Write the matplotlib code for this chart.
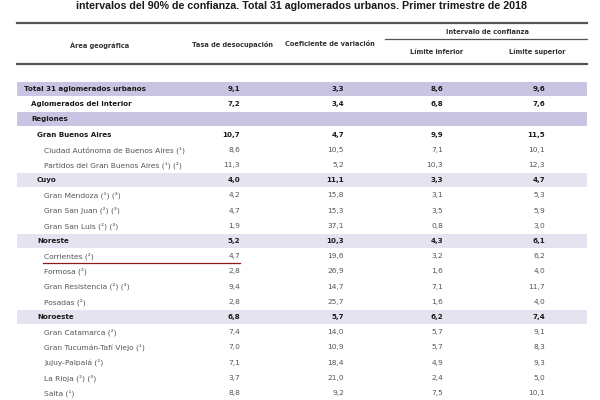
import matplotlib
matplotlib.use('Agg')
import matplotlib.pyplot as plt

# Datos de la tabla
areas = ["Total 31 aglomerados urbanos", "Aglomerados del interior", "Regiones",
         "Gran Buenos Aires", "Ciudad Autónoma de Buenos Aires (¹)",
         "Partidos del Gran Buenos Aires (¹) (²)",
         "Cuyo", "Gran Mendoza (¹) (³)", "Gran San Juan (²) (³)", "Gran San Luis (²) (³)",
         "Noreste", "Corrientes (²)", "Formosa (²)", "Gran Resistencia (²) (³)", "Posadas (²)",
         "Noroeste", "Gran Catamarca (²)", "Gran Tucumán-Tafí Viejo (¹)", "Jujuy-Palpalá (²)",
         "La Rioja (²) (³)", "Salta (¹)"]
tasa = ["9,1", "7,2", "", "10,7", "8,6", "11,3", "4,0", "4,2", "4,7", "1,9",
        "5,2", "4,7", "2,8", "9,4", "2,8", "6,8", "7,4", "7,0", "7,1", "3,7", "8,8"]
coef = ["3,3", "3,4", "", "4,7", "10,5", "5,2", "11,1", "15,8", "15,3", "37,1",
        "10,3", "19,6", "26,9", "14,7", "25,7", "5,7", "14,0", "10,9", "18,4", "21,0", "9,2"]
lim_inf = ["8,6", "6,8", "", "9,9", "7,1", "10,3", "3,3", "3,1", "3,5", "0,8",
           "4,3", "3,2", "1,6", "7,1", "1,6", "6,2", "5,7", "5,7", "4,9", "2,4", "7,5"]
lim_sup = ["9,6", "7,6", "", "11,5", "10,1", "12,3", "4,7", "5,3", "5,9", "3,0",
           "6,1", "6,2", "4,0", "11,7", "4,0", "7,4", "9,1", "8,3", "9,3", "5,0", "10,1"]
# nivel: 0 total, 1 interior/regiones, 2 region, 3 aglomerado
nivel = [0, 1, 1, 2, 3, 3, 2, 3, 3, 3, 2, 3, 3, 3, 3, 2, 3, 3, 3, 3, 3]
titulo = "intervalos del 90% de confianza. Total 31 aglomerados urbanos. Primer trimestre de 2018"

narrow = ['Liberation Sans Narrow', 'DejaVu Sans']

fig = plt.figure(figsize=(6, 4), dpi=100)
ax = fig.add_axes([0, 0, 1, 1])
ax.set_xlim(0, 600)
ax.set_ylim(400, 0)
ax.axis('off')

ax.text(302, 6, titulo, ha='center', va='center', fontsize=7.7,
        fontweight='bold', family='Liberation Sans', color='#1a1a1a')

# encabezado
ax.plot([17, 587], [23, 23], color='#555555', lw=1.6)
ax.plot([17, 587], [64, 64], color='#555555', lw=1.6)
ax.plot([385, 587], [39, 39], color='#555555', lw=0.9)
hdr = dict(ha='center', va='center', fontsize=4.8, family=narrow,
           fontweight='bold', color='#333333')
ax.text(100, 45, "Área geográfica", **hdr)
ax.text(233, 45, "Tasa de desocupación", **hdr)
ax.text(330, 44, "Coeficiente de variación", **hdr)
ax.text(487, 32, "Intervalo de confianza", **hdr)
ax.text(437, 52, "Límite inferior", **hdr)
ax.text(537, 52, "Límite superior", **hdr)

y0 = 89
dy = 15.2
sangria = {0: 24, 1: 31, 2: 37, 3: 44}
cols = [(240, tasa), (344, coef), (443, lim_inf), (545, lim_sup)]
for i, nombre in enumerate(areas):
    y = y0 + i * dy
    lv = nivel[i]
    if lv == 0 or nombre == "Regiones":
        ax.fill_between([17, 587], y - 7, y + 7, color='#c9c4e1', lw=0)
    elif lv == 2 and nombre != "Gran Buenos Aires":
        ax.fill_between([17, 587], y - 7, y + 7, color='#e6e3f0', lw=0)
    bold = lv < 3
    color = '#1a1a1a' if bold else '#555555'
    fw = 'bold' if bold else 'normal'
    fs = 5.1 if bold else 5.4
    ax.text(sangria[lv], y, nombre, ha='left', va='center', fontsize=fs,
            family=narrow, fontweight=fw, color=color)
    for x, vals in cols:
        ax.text(x, y, vals[i], ha='right', va='center', fontsize=fs,
                family=narrow, fontweight=fw, color=color)

# línea roja bajo Corrientes
yc = y0 + 11 * dy + 7
ax.plot([43, 240], [yc, yc], color='#8b1a1a', lw=0.9)

fig.savefig('out.png', dpi=100)
